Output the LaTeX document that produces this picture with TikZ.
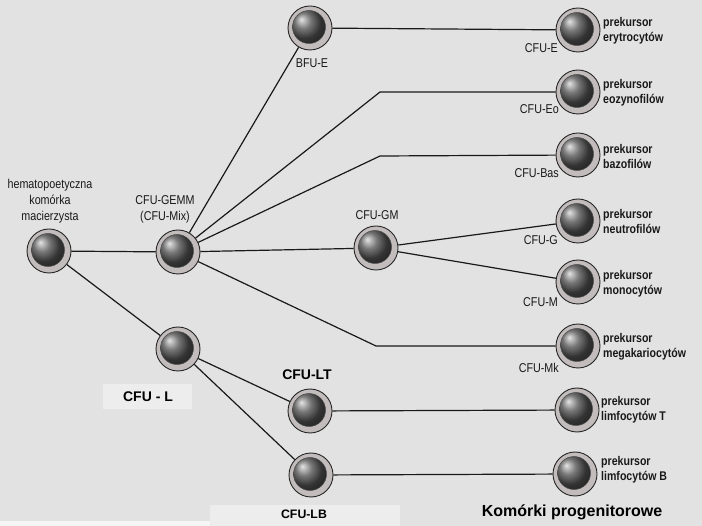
\documentclass[tikz,border=0pt]{standalone}
\usepackage{fontspec}
\setmainfont{Liberation Sans}
\newfontfamily\cond[FakeStretch=0.84]{Liberation Sans}
\definecolor{bg}{HTML}{E2E2E2}
\definecolor{boxbg}{HTML}{EDEDED}
\definecolor{ring}{HTML}{C2BCBC}
\definecolor{ballc}{HTML}{4A4A4A}
\tikzset{
  cell/.style={circle, draw=black!85, line width=0.9pt, fill=ring,
    minimum size=44pt, inner sep=0pt,
    path picture={\shade[ball color=ballc] ([xshift=-1pt,yshift=1pt]path picture bounding box.center) circle (16.5pt);
      \draw[black!70, line width=0.5pt] ([xshift=-1pt,yshift=1pt]path picture bounding box.center) circle (16.5pt);}},
  link/.style={draw=black!90, line width=1.2pt},
  cfu/.style={font=\cond\fontsize{12.8}{16}\selectfont, text=black!90, inner sep=0pt},
  prek/.style={font=\cond\bfseries\fontsize{12.6}{15}\selectfont, align=left, anchor=west, inner sep=0pt, text=black!90},
  boldlab/.style={font=\bfseries\fontsize{14}{16}\selectfont, inner sep=0pt},
}
\begin{document}
\begin{tikzpicture}[x=1pt,y=-1pt]
\useasboundingbox (0,0) rectangle (702,526);
\fill[bg] (0,0) rectangle (702,526);
\fill[white!96!black] (0,521) rectangle (210,526);
\fill[boxbg] (103,384) rectangle (192,409);
\fill[boxbg] (210,505) rectangle (400,526);

% cells
\node[cell] (hsc) at (49,251) {};
\node[cell] (gemm) at (178,252) {};
\node[cell] (bfue) at (310,28) {};
\node[cell] (gm) at (376,248) {};
\node[cell] (cful) at (178,349) {};
\node[cell] (lt) at (310,411) {};
\node[cell] (lb) at (311,475) {};
\node[cell] (e) at (578,30) {};
\node[cell] (eo) at (578,92) {};
\node[cell] (bas) at (578,155) {};
\node[cell] (g) at (578,221) {};
\node[cell] (m) at (578,282) {};
\node[cell] (mk) at (578,346) {};
\node[cell] (t) at (577,410) {};
\node[cell] (b) at (575,474) {};

\coordinate (eobend) at (380,92);
\coordinate (basbend) at (380,156);
\coordinate (mkbend) at (376,346);

% connectors
\draw[link] (hsc) -- (gemm);
\draw[link] (hsc) -- (cful);
\draw[link] (gemm) -- (bfue);
\draw[link] (bfue) -- (e);
\draw[link] (gemm) -- (eobend) -- (eo);
\draw[link] (gemm) -- (basbend) -- (bas);
\draw[link] (gemm) -- (gm);
\draw[link] (gm) -- (g);
\draw[link] (gm) -- (m);
\draw[link] (gemm) -- (mkbend) -- (mk);
\draw[link] (cful) -- (lt);
\draw[link] (cful) -- (lb);
\draw[link] (lt) -- (t);
\draw[link] (lb) -- (b);

% labels
\node[cfu, align=center] (hsclab) at (50,201) {hematopoetyczna\\komórka\\macierzysta};
\node[cfu, align=center] (gemmlab) at (165,209) {CFU-GEMM\\(CFU-Mix)};
\node[cfu] (bfuelab) at (312,63) {BFU-E};
\node[cfu] (gmlab) at (377,215) {CFU-GM};
\node[cfu, anchor=east] (elab) at (558,48) {CFU-E};
\node[cfu, anchor=east] (eolab) at (559,109) {CFU-Eo};
\node[cfu, anchor=east] (baslab) at (559,173) {CFU-Bas};
\node[cfu, anchor=east] (glab) at (558,240) {CFU-G};
\node[cfu, anchor=east] (mlab) at (558,302) {CFU-M};
\node[cfu, anchor=east] (mklab) at (559,368) {CFU-Mk};

\node[prek] (pe) at (603,31) {prekursor\\erytrocytów};
\node[prek] (peo) at (603,93) {prekursor\\eozynofilów};
\node[prek] (pbas) at (603,156) {prekursor\\bazofilów};
\node[prek] (pg) at (603,221) {prekursor\\neutrofilów};
\node[prek] (pm) at (603,284) {prekursor\\monocytów};
\node[prek] (pmk) at (603,347) {prekursor\\megakariocytów};
\node[prek] (pt) at (601,410) {prekursor\\limfocytów T};
\node[prek] (pb) at (601,470) {prekursor\\limfocytów B};

\node[boldlab] (cflab) at (148,397) {CFU - L};
\node[boldlab] (ltlab) at (307,375) {CFU-LT};
\node[font=\bfseries\fontsize{12.3}{14}\selectfont, inner sep=0pt] (lblab) at (304,514) {CFU-LB};
\node[font=\bfseries\fontsize{16}{18}\selectfont, inner sep=0pt] (komlab) at (572,512) {Komórki progenitorowe};
\end{tikzpicture}
\end{document}
